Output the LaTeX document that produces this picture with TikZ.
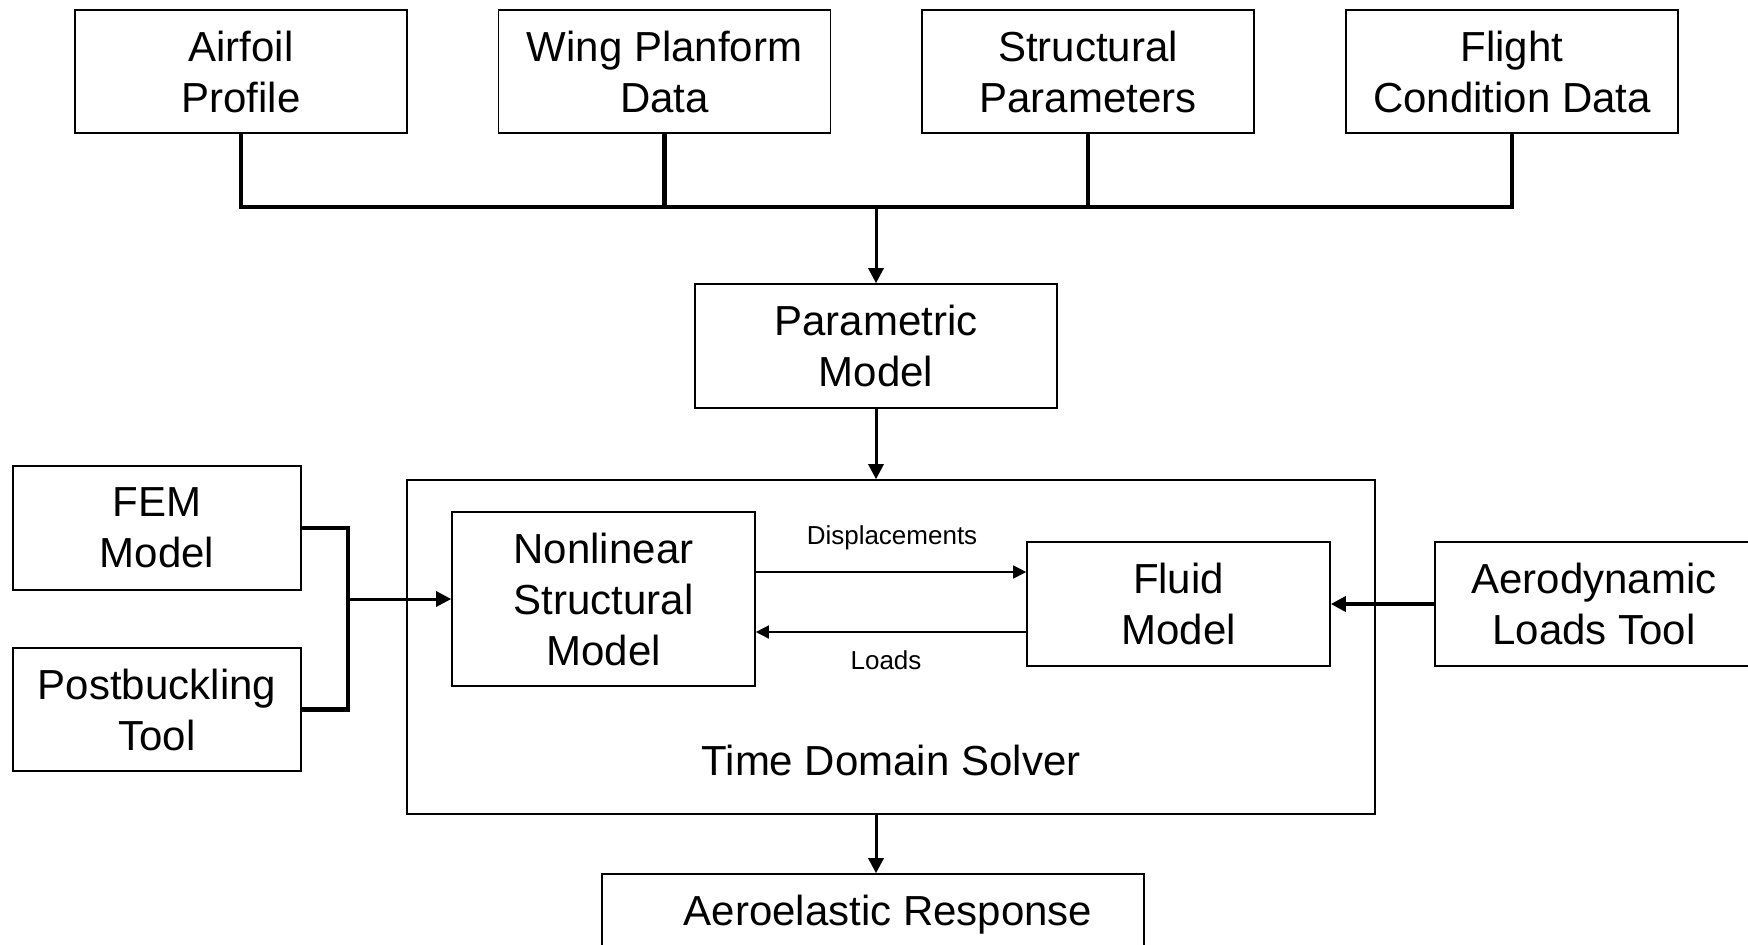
\documentclass[tikz,border=0pt]{standalone}
\usepackage{fontspec}
\setmainfont{Liberation Sans}
\usetikzlibrary{arrows.meta}
\begin{document}
\begin{tikzpicture}[x=0.5pt,y=-0.5pt,
  box/.style={draw=black,line width=0.8pt,fill=white,align=center,inner sep=0pt,
    font=\fontsize{21pt}{25.5pt}\selectfont},
  bus/.style={line width=2.4pt},
  arr/.style={line width=1.5pt,-{Triangle[length=7.5pt,width=7.5pt]}},
  thinarr/.style={line width=0.75pt,-{Triangle[length=6.5pt,width=6.5pt]}},
  big/.style={font=\fontsize{21pt}{25.5pt}\selectfont,inner sep=0pt},
  small/.style={font=\fontsize{13pt}{15pt}\selectfont,inner sep=0pt}]
\clip (0,0) rectangle (1748,944);
\fill[white] (0,0) rectangle (1748,944);
% top inputs
\node[box,minimum width=166pt,minimum height=61.5pt] (airfoil) at (241,71.5) {Airfoil\\Profile};
\node[box,minimum width=166pt,minimum height=61.5pt] (wing) at (664.5,71.5) {Wing Planform\\Data};
\node[box,minimum width=166pt,minimum height=61.5pt] (struct) at (1088,71.5) {Structural\\Parameters};
\node[box,minimum width=166pt,minimum height=61.5pt] (flight) at (1512,71.5) {Flight\\Condition Data};
\node[box,minimum width=181pt,minimum height=62pt] (param) at (876,346) {Parametric\\Model};
% solver
\node[box,minimum width=484pt,minimum height=167pt] (tds) at (891,647) {};
\node[big] (tdslabel) at (891,760) {Time Domain Solver};
\node[box,minimum width=151.5pt,minimum height=87pt] (nonlin) at (603.5,599) {Nonlinear\\Structural\\Model};
\node[box,minimum width=151.5pt,minimum height=62pt] (fluid) at (1178.5,604) {Fluid\\Model};
\node[box,minimum width=159pt,minimum height=62pt] (aero) at (1594,604) {Aerodynamic\\Loads Tool};
\node[box,minimum width=144pt,minimum height=62pt] (fem) at (157,528) {FEM\\Model};
\node[box,minimum width=144pt,minimum height=61.5pt] (post) at (157,709.5) {Postbuckling\\Tool};
\node[box,minimum width=271pt,minimum height=37pt] (resp) at (873,911) {};
\node[big] (resplabel) at (888,915) {Aeroelastic Response};
\node[small] (displ) at (892,538) {Displacements};
\node[small] (loads) at (886,660) {Loads};
% bus
\coordinate (busL) at (240,207);
\coordinate (busR) at (1512,207);
\coordinate (busM) at (876,207);
\draw[bus] (airfoil.south) -- (airfoil.south |- busL) -- (flight.south |- busR) -- (flight.south);
\draw[bus] (wing.south) -- (wing.south |- busL);
\draw[bus] (struct.south) -- (struct.south |- busL);
\draw[arr] (busM) -- (param.north);
\draw[arr] (param.south) -- (param.south |- tds.north);
\draw[arr] (param.south |- tds.south) -- (param.south |- resp.north);
% bracket
\coordinate (brk) at (348,599);
\draw[bus] (fem.east) -- (fem.east -| brk) -- (post.east -| brk) -- (post.east);
\draw[arr] (nonlin.west -| brk) -- (nonlin.west);
% coupling arrows
\draw[thinarr] ([yshift=13.5pt]nonlin.east) -- ([yshift=13.5pt]nonlin.east -| fluid.west);
\draw[thinarr] ([yshift=-16.5pt]nonlin.east -| fluid.west) -- ([yshift=-16.5pt]nonlin.east);
\draw[arr,line width=1.8pt] (aero.west) -- (fluid.east);
\end{tikzpicture}
\end{document}
